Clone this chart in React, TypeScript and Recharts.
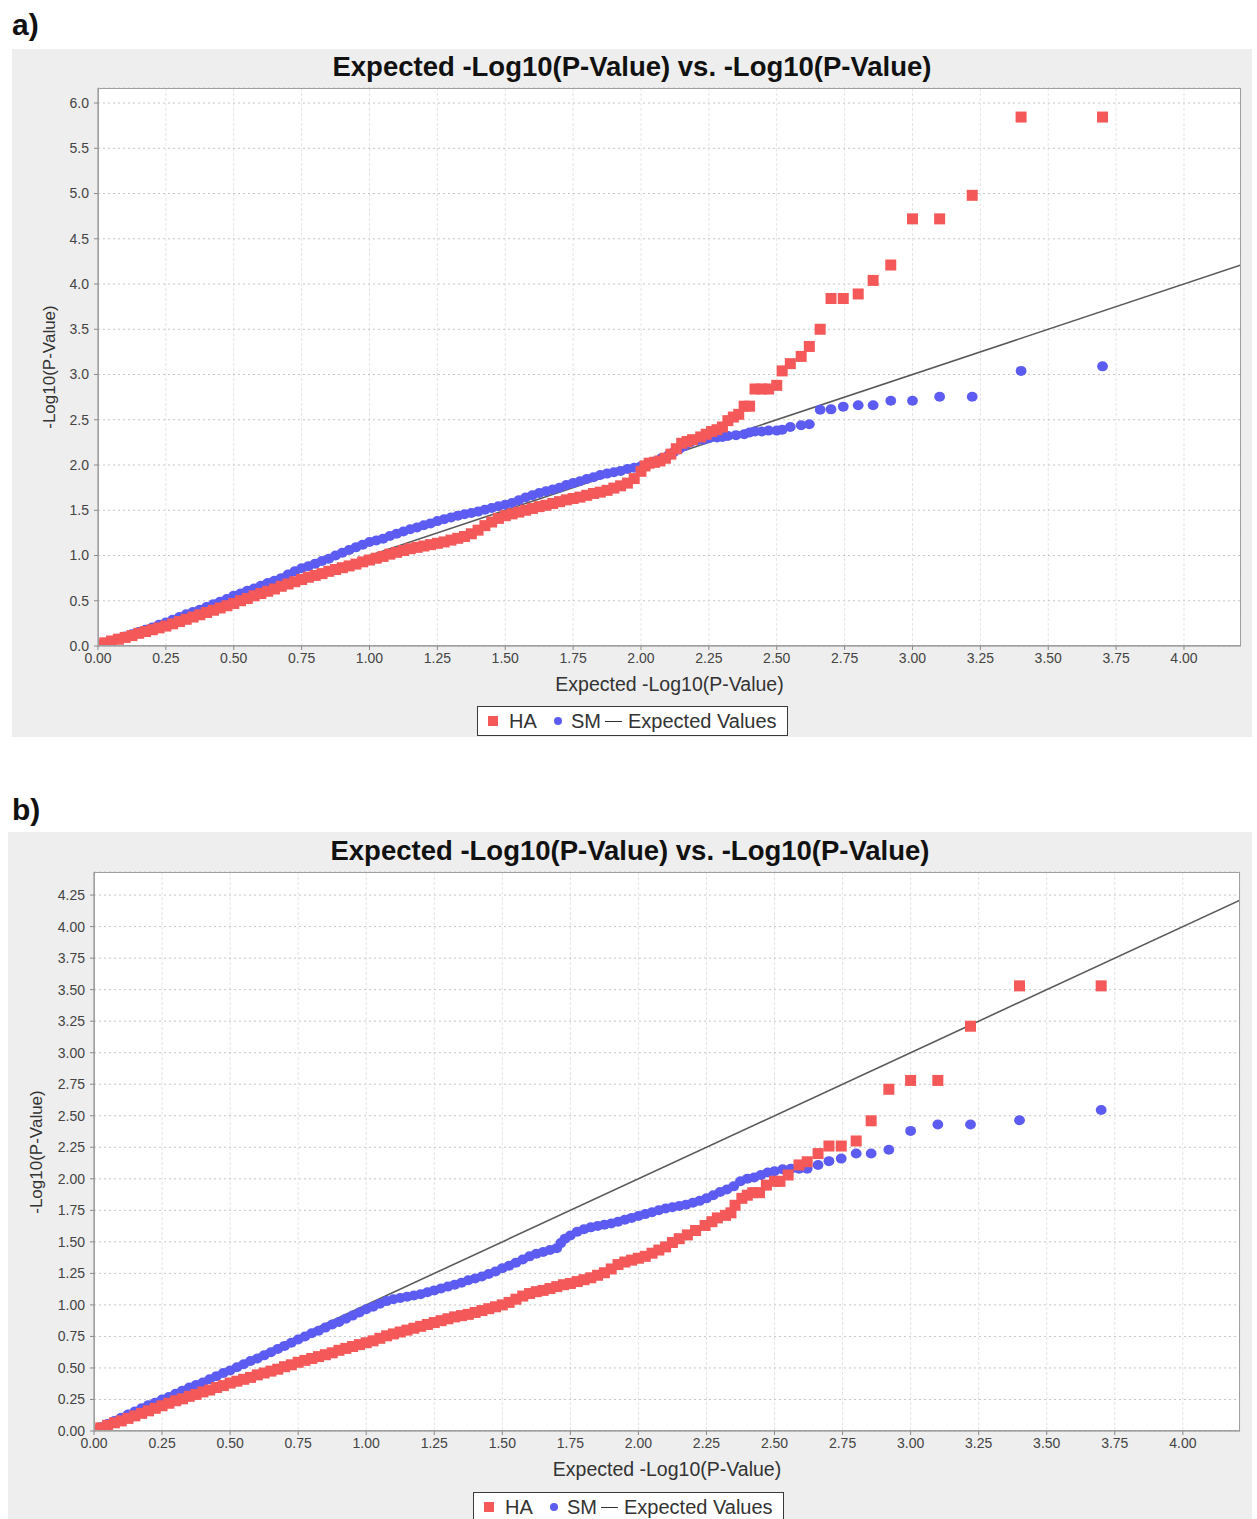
import React from 'react';
import { ScatterChart, Scatter, XAxis, YAxis, CartesianGrid } from 'recharts';

// ---------- shared axis data ----------
const xTicks = [0, 0.25, 0.5, 0.75, 1, 1.25, 1.5, 1.75, 2, 2.25, 2.5, 2.75, 3, 3.25, 3.5, 3.75, 4];
const yTicksA = [0, 0.5, 1, 1.5, 2, 2.5, 3, 3.5, 4, 4.5, 5, 5.5, 6];
const yTicksB = [0, 0.25, 0.5, 0.75, 1, 1.25, 1.5, 1.75, 2, 2.25, 2.5, 2.75, 3, 3.25, 3.5, 3.75, 4, 4.25];
const expectedX = [0, 4.21];
const expectedY = [0, 4.21];

// ---------- panel a) ----------
const haAX = [0, 0.025, 0.05, 0.075, 0.1, 0.125, 0.15, 0.175, 0.2, 0.225, 0.25, 0.275, 0.3, 0.325, 0.35, 0.375, 0.4, 0.425, 0.45, 0.475, 0.5, 0.525, 0.55, 0.575, 0.6, 0.625, 0.65, 0.675, 0.7, 0.725, 0.75, 0.775, 0.8, 0.825, 0.85, 0.875, 0.9, 0.925, 0.95, 0.975, 1, 1.025, 1.05, 1.075, 1.1, 1.125, 1.15, 1.175, 1.2, 1.225, 1.25, 1.275, 1.3, 1.325, 1.35, 1.375, 1.4, 1.425, 1.45, 1.475, 1.5, 1.525, 1.55, 1.575, 1.6, 1.625, 1.65, 1.675, 1.7, 1.725, 1.75, 1.775, 1.8, 1.825, 1.85, 1.875, 1.9, 1.925, 1.95, 1.975, 2, 2.015, 2.03, 2.05, 2.07, 2.09, 2.11, 2.13, 2.15, 2.17, 2.19, 2.22, 2.24, 2.26, 2.28, 2.3, 2.32, 2.34, 2.36, 2.38, 2.4, 2.42, 2.445, 2.47, 2.5, 2.52, 2.55, 2.59, 2.62, 2.66, 2.7, 2.745, 2.8, 2.855, 2.92, 3.0, 3.1, 3.22, 3.4, 3.7];
const haAY = [0.015, 0.035, 0.055, 0.075, 0.095, 0.115, 0.14, 0.16, 0.18, 0.2, 0.22, 0.245, 0.27, 0.295, 0.32, 0.345, 0.37, 0.395, 0.42, 0.445, 0.47, 0.5, 0.525, 0.555, 0.58, 0.605, 0.63, 0.66, 0.685, 0.71, 0.735, 0.76, 0.78, 0.8, 0.825, 0.845, 0.865, 0.885, 0.905, 0.93, 0.95, 0.97, 0.99, 1.015, 1.035, 1.055, 1.075, 1.09, 1.105, 1.12, 1.135, 1.15, 1.17, 1.19, 1.21, 1.24, 1.28, 1.33, 1.37, 1.41, 1.44, 1.46, 1.48, 1.5, 1.52, 1.54, 1.555, 1.575, 1.595, 1.615, 1.63, 1.645, 1.665, 1.685, 1.7, 1.72, 1.745, 1.77, 1.8, 1.85, 1.93, 1.99, 2.02, 2.03, 2.045, 2.075, 2.12, 2.18, 2.24, 2.26, 2.28, 2.31, 2.34, 2.37, 2.39, 2.42, 2.49, 2.53, 2.56, 2.65, 2.65, 2.84, 2.84, 2.84, 2.88, 3.04, 3.12, 3.2, 3.31, 3.5, 3.84, 3.84, 3.89, 4.04, 4.21, 4.72, 4.72, 4.98, 5.845, 5.845];

const smAX = [0, 0.025, 0.05, 0.075, 0.1, 0.125, 0.15, 0.175, 0.2, 0.225, 0.25, 0.275, 0.3, 0.325, 0.35, 0.375, 0.4, 0.425, 0.45, 0.475, 0.5, 0.525, 0.55, 0.575, 0.6, 0.625, 0.65, 0.675, 0.7, 0.725, 0.75, 0.775, 0.8, 0.825, 0.85, 0.875, 0.9, 0.925, 0.95, 0.975, 1, 1.025, 1.05, 1.075, 1.1, 1.125, 1.15, 1.175, 1.2, 1.225, 1.25, 1.275, 1.3, 1.325, 1.35, 1.375, 1.4, 1.425, 1.45, 1.475, 1.5, 1.525, 1.55, 1.575, 1.6, 1.625, 1.65, 1.675, 1.7, 1.725, 1.75, 1.775, 1.8, 1.825, 1.85, 1.875, 1.9, 1.925, 1.95, 1.975, 2, 2.025, 2.05, 2.075, 2.1, 2.12, 2.14, 2.16, 2.18, 2.205, 2.23, 2.25, 2.28, 2.3, 2.32, 2.35, 2.38, 2.4, 2.42, 2.445, 2.47, 2.5, 2.52, 2.55, 2.59, 2.62, 2.66, 2.7, 2.745, 2.8, 2.855, 2.92, 3.0, 3.1, 3.22, 3.4, 3.7];
const smAY = [0.01, 0.03, 0.055, 0.08, 0.105, 0.13, 0.155, 0.18, 0.205, 0.235, 0.26, 0.29, 0.32, 0.35, 0.375, 0.4, 0.43, 0.46, 0.49, 0.52, 0.555, 0.58, 0.61, 0.635, 0.665, 0.695, 0.72, 0.75, 0.79, 0.825, 0.86, 0.88, 0.91, 0.94, 0.965, 1.0, 1.03, 1.06, 1.09, 1.12, 1.15, 1.165, 1.185, 1.215, 1.24, 1.265, 1.29, 1.31, 1.335, 1.355, 1.38, 1.4, 1.42, 1.44, 1.455, 1.47, 1.485, 1.505, 1.525, 1.545, 1.56, 1.58, 1.61, 1.64, 1.665, 1.69, 1.71, 1.73, 1.75, 1.78, 1.8, 1.82, 1.845, 1.865, 1.89, 1.905, 1.92, 1.935, 1.955, 1.97, 1.985, 2.01, 2.04, 2.075, 2.105, 2.14, 2.175, 2.21, 2.245, 2.27, 2.28, 2.295, 2.305, 2.31, 2.32, 2.33, 2.34, 2.36, 2.37, 2.37, 2.38, 2.38, 2.39, 2.42, 2.44, 2.45, 2.61, 2.615, 2.645, 2.66, 2.66, 2.71, 2.71, 2.755, 2.755, 3.04, 3.09];

// ---------- panel b) ----------
const haBX = [0, 0.025, 0.05, 0.075, 0.1, 0.125, 0.15, 0.175, 0.2, 0.225, 0.25, 0.275, 0.3, 0.325, 0.35, 0.375, 0.4, 0.425, 0.45, 0.475, 0.5, 0.525, 0.55, 0.575, 0.6, 0.625, 0.65, 0.675, 0.7, 0.725, 0.75, 0.775, 0.8, 0.825, 0.85, 0.875, 0.9, 0.925, 0.95, 0.975, 1, 1.025, 1.05, 1.075, 1.1, 1.125, 1.15, 1.175, 1.2, 1.225, 1.25, 1.275, 1.3, 1.325, 1.35, 1.375, 1.4, 1.425, 1.45, 1.475, 1.5, 1.525, 1.55, 1.575, 1.6, 1.625, 1.65, 1.675, 1.7, 1.725, 1.75, 1.775, 1.8, 1.825, 1.85, 1.875, 1.9, 1.925, 1.95, 1.975, 2, 2.025, 2.05, 2.075, 2.1, 2.125, 2.15, 2.18, 2.21, 2.245, 2.27, 2.29, 2.32, 2.34, 2.355, 2.38, 2.4, 2.42, 2.445, 2.47, 2.5, 2.52, 2.55, 2.59, 2.62, 2.66, 2.7, 2.745, 2.8, 2.855, 2.92, 3.0, 3.1, 3.22, 3.4, 3.7];
const haBY = [0.01, 0.025, 0.045, 0.065, 0.08, 0.1, 0.12, 0.14, 0.16, 0.18, 0.2, 0.22, 0.24, 0.255, 0.275, 0.29, 0.31, 0.325, 0.345, 0.36, 0.38, 0.395, 0.41, 0.425, 0.445, 0.46, 0.475, 0.49, 0.51, 0.525, 0.545, 0.56, 0.575, 0.59, 0.605, 0.62, 0.64, 0.655, 0.67, 0.685, 0.7, 0.715, 0.735, 0.755, 0.77, 0.785, 0.8, 0.815, 0.83, 0.845, 0.86, 0.875, 0.89, 0.905, 0.915, 0.925, 0.94, 0.955, 0.97, 0.985, 1.0, 1.02, 1.045, 1.07, 1.09, 1.105, 1.115, 1.13, 1.145, 1.16, 1.17, 1.185, 1.2, 1.215, 1.235, 1.255, 1.285, 1.32, 1.34, 1.355, 1.37, 1.385, 1.41, 1.435, 1.46, 1.495, 1.525, 1.555, 1.59, 1.63, 1.66, 1.69, 1.71, 1.73, 1.79, 1.845, 1.87, 1.89, 1.89, 1.95, 1.98, 1.98, 2.03, 2.11, 2.135, 2.2, 2.26, 2.26, 2.3, 2.46, 2.71, 2.78, 2.78, 3.21, 3.53, 3.53];

const smBX = [0, 0.025, 0.05, 0.075, 0.1, 0.125, 0.15, 0.175, 0.2, 0.225, 0.25, 0.275, 0.3, 0.325, 0.35, 0.375, 0.4, 0.425, 0.45, 0.475, 0.5, 0.525, 0.55, 0.575, 0.6, 0.625, 0.65, 0.675, 0.7, 0.725, 0.75, 0.775, 0.8, 0.825, 0.85, 0.875, 0.9, 0.925, 0.95, 0.975, 1, 1.025, 1.05, 1.075, 1.1, 1.125, 1.15, 1.175, 1.2, 1.225, 1.25, 1.275, 1.3, 1.325, 1.35, 1.375, 1.4, 1.425, 1.45, 1.475, 1.5, 1.525, 1.55, 1.575, 1.6, 1.625, 1.65, 1.675, 1.7, 1.715, 1.73, 1.75, 1.775, 1.8, 1.825, 1.85, 1.875, 1.9, 1.925, 1.95, 1.975, 2, 2.025, 2.05, 2.075, 2.1, 2.125, 2.15, 2.175, 2.2, 2.225, 2.25, 2.275, 2.3, 2.325, 2.35, 2.375, 2.4, 2.425, 2.45, 2.475, 2.5, 2.53, 2.56, 2.59, 2.62, 2.66, 2.7, 2.745, 2.8, 2.855, 2.92, 3.0, 3.1, 3.22, 3.4, 3.7];
const smBY = [0.01, 0.03, 0.055, 0.08, 0.105, 0.13, 0.155, 0.18, 0.205, 0.225, 0.25, 0.27, 0.295, 0.32, 0.345, 0.365, 0.385, 0.41, 0.435, 0.46, 0.48, 0.505, 0.53, 0.555, 0.575, 0.6, 0.625, 0.65, 0.675, 0.7, 0.725, 0.75, 0.775, 0.795, 0.82, 0.845, 0.865, 0.89, 0.915, 0.94, 0.965, 0.985, 1.01, 1.03, 1.045, 1.055, 1.065, 1.075, 1.085, 1.1, 1.115, 1.13, 1.145, 1.16, 1.175, 1.195, 1.21, 1.225, 1.245, 1.265, 1.29, 1.31, 1.335, 1.36, 1.385, 1.405, 1.42, 1.435, 1.45, 1.49, 1.525, 1.55, 1.58, 1.6, 1.615, 1.625, 1.635, 1.645, 1.66, 1.675, 1.69, 1.705, 1.72, 1.735, 1.75, 1.765, 1.775, 1.785, 1.795, 1.81, 1.825, 1.845, 1.87, 1.895, 1.915, 1.94, 1.98, 2.0, 2.01, 2.03, 2.05, 2.06, 2.075, 2.08, 2.08, 2.08, 2.11, 2.14, 2.16, 2.2, 2.2, 2.23, 2.38, 2.43, 2.43, 2.465, 2.545];

// ---------- styling ----------
const RED = '#F45858';
const BLUE = '#5C5CF2';
const LINE = '#5a5a5a';
const FONT = '"Liberation Sans", Arial, sans-serif';
const TICK = { fontFamily: FONT, fontSize: 14, fill: '#444' };

const toPts = (xs: number[], ys: number[]) => xs.map((x, i) => ({ x, y: ys[i] }));

const Square = (p: any) => {
  if (p.cx == null || p.cy == null) return <g />;
  return <rect x={p.cx - 5.5} y={p.cy - 5.5} width={11} height={11} fill={RED} />;
};
const Dot = (p: any) => {
  if (p.cx == null || p.cy == null) return <g />;
  return <ellipse cx={p.cx} cy={p.cy} rx={5.4} ry={5} fill={BLUE} />;
};
const NoShape = () => <g />;

type PanelProps = {
  label: string;
  top: number;
  left: number;
  width: number;
  height: number;
  margin: { top: number; right: number; bottom: number; left: number };
  yMax: number;
  yTicks: number[];
  yDigits: number;
  ha: { x: number; y: number }[];
  sm: { x: number; y: number }[];
  titleY: number;
  xLabelY: number;
  legendTop: number;
  yLabelX: number;
  labelTop: number;
};

function Panel(props: PanelProps) {
  const { width, height, margin } = props;
  const plotLeft = margin.left + 86;
  const plotTop = margin.top;
  const plotW = width - margin.right - plotLeft;
  const plotH = height - margin.bottom - 30 - plotTop;
  const expected = toPts(expectedX, expectedY);
  return (
    <>
      <div
        style={{
          position: 'absolute',
          left: 12,
          top: props.labelTop,
          fontFamily: FONT,
          fontWeight: 'bold',
          fontSize: 30,
          lineHeight: '30px',
          color: '#111',
        }}
      >
        {props.label}
      </div>
      <div
        style={{
          position: 'absolute',
          left: props.left,
          top: props.top,
          width,
          height,
          background: '#eeeeee',
        }}
      >
        <ScatterChart width={width} height={height} margin={margin}>
          <CartesianGrid fill="#ffffff" horizontal={false} stroke="#e4e4e4" strokeDasharray="3 2" />
          <CartesianGrid vertical={false} stroke="#c6c6c6" strokeDasharray="2 3" />
          <XAxis
            type="number"
            dataKey="x"
            domain={[0, 4.21]}
            ticks={xTicks}
            interval={0}
            tickFormatter={(v: number) => v.toFixed(2)}
            tick={TICK}
            stroke="#8a8a8a"
            tickSize={4}
            tickMargin={3}
            height={30}
            allowDataOverflow
          />
          <YAxis
            type="number"
            dataKey="y"
            domain={[0, props.yMax]}
            ticks={props.yTicks}
            interval={0}
            tickFormatter={(v: number) => v.toFixed(props.yDigits)}
            tick={TICK}
            stroke="#8a8a8a"
            tickSize={4}
            tickMargin={5}
            width={86}
            allowDataOverflow
          />
          <Scatter
            name="Expected Values"
            data={expected}
            line={{ stroke: LINE, strokeWidth: 1.6 }}
            shape={NoShape}
            isAnimationActive={false}
          />
          <Scatter name="SM" data={props.sm} shape={Dot} isAnimationActive={false} />
          <Scatter name="HA" data={props.ha} shape={Square} isAnimationActive={false} />
        </ScatterChart>
        {/* plot border */}
        <div
          style={{
            position: 'absolute',
            left: plotLeft,
            top: plotTop,
            width: plotW,
            height: plotH,
            border: '1px solid #a0a0a0',
            boxSizing: 'border-box',
            pointerEvents: 'none',
          }}
        />
        {/* title */}
        <div
          style={{
            position: 'absolute',
            left: 0,
            width: width,
            top: props.titleY - 16,
            height: 32,
            lineHeight: '32px',
            textAlign: 'center',
            fontFamily: FONT,
            fontWeight: 'bold',
            fontSize: 27.5,
            color: '#111',
          }}
        >
          Expected -Log10(P-Value) vs. -Log10(P-Value)
        </div>
        {/* x label */}
        <div
          style={{
            position: 'absolute',
            left: plotLeft,
            width: plotW,
            top: props.xLabelY - 12,
            height: 24,
            lineHeight: '24px',
            textAlign: 'center',
            fontFamily: FONT,
            fontSize: 19.5,
            color: '#333',
          }}
        >
          Expected -Log10(P-Value)
        </div>
        {/* y label */}
        <div
          style={{
            position: 'absolute',
            left: props.yLabelX - 100,
            top: plotTop + plotH / 2 - 11,
            width: 200,
            height: 22,
            lineHeight: '22px',
            textAlign: 'center',
            fontFamily: FONT,
            fontSize: 17,
            color: '#333',
            transform: 'rotate(-90deg)',
          }}
        >
          -Log10(P-Value)
        </div>
        {/* legend */}
        <div
          style={{
            position: 'absolute',
            left: 465,
            top: props.legendTop,
            width: 311,
            height: 30,
            background: '#ffffff',
            border: '1.5px solid #3a3a3a',
            boxSizing: 'border-box',
            fontFamily: FONT,
            fontSize: 20,
            color: '#333',
          }}
        >
          <div style={{ position: 'absolute', left: 10, top: 9, width: 10, height: 10, background: RED }} />
          <span style={{ position: 'absolute', left: 31, top: 2.5, lineHeight: '23px' }}>HA</span>
          <div style={{ position: 'absolute', left: 76, top: 10, width: 8, height: 8, borderRadius: '50%', background: BLUE }} />
          <span style={{ position: 'absolute', left: 93, top: 2.5, lineHeight: '23px' }}>SM</span>
          <div style={{ position: 'absolute', left: 127, top: 13.5, width: 17, height: 1.5, background: '#333' }} />
          <span style={{ position: 'absolute', left: 150, top: 2.5, lineHeight: '23px', whiteSpace: 'nowrap' }}>
            Expected Values
          </span>
        </div>
      </div>
    </>
  );
}

export default function App() {
  return (
    <div
      style={{
        position: 'absolute',
        left: 0,
        top: 0,
        width: 1257,
        height: 1519,
        overflow: 'hidden',
        background: '#ffffff',
      }}
    >
      <Panel
        label="a)"
        labelTop={10}
        left={12}
        top={49}
        width={1240}
        height={688}
        margin={{ top: 39, right: 11, bottom: 61, left: 0 }}
        yMax={6.166}
        yTicks={yTicksA}
        yDigits={1}
        ha={toPts(haAX, haAY)}
        sm={toPts(smAX, smAY)}
        titleY={18}
        xLabelY={635}
        legendTop={657}
        yLabelX={38}
      />
      <Panel
        label="b)"
        labelTop={795}
        left={8}
        top={832}
        width={1244}
        height={687}
        margin={{ top: 40, right: 12, bottom: 58, left: 0 }}
        yMax={4.433}
        yTicks={yTicksB}
        yDigits={2}
        ha={toPts(haBX, haBY)}
        sm={toPts(smBX, smBY)}
        titleY={19}
        xLabelY={637}
        legendTop={660}
        yLabelX={29}
      />
    </div>
  );
}
